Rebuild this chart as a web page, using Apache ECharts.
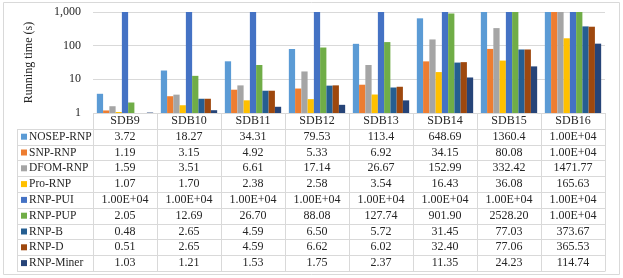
<!DOCTYPE html>
<html><head><meta charset="utf-8">
<script src="https://cdn.jsdelivr.net/npm/echarts@6/dist/echarts.min.js"></script>
<style>html,body{margin:0;padding:0;background:#fff}#c{width:623px;height:278px}</style>
</head><body><div id="c"></div>
<script>
var categories = ['SDB9','SDB10','SDB11','SDB12','SDB13','SDB14','SDB15','SDB16'];
var seriesNames = ['NOSEP-RNP','SNP-RNP','DFOM-RNP','Pro-RNP','RNP-PUI','RNP-PUP','RNP-B','RNP-D','RNP-Miner'];
var colors = ['#5B9BD5','#ED7D31','#A5A5A5','#FFC000','#4472C4','#70AD47','#255E91','#9E480E','#264478'];
var nosepRnp = ['3.72','18.27','34.31','79.53','113.4','648.69','1360.4','1.00E+04'];
var snpRnp   = ['1.19','3.15','4.92','5.33','6.92','34.15','80.08','1.00E+04'];
var dfomRnp  = ['1.59','3.51','6.61','17.14','26.67','152.99','332.42','1471.77'];
var proRnp   = ['1.07','1.70','2.38','2.58','3.54','16.43','36.08','165.63'];
var rnpPui   = ['1.00E+04','1.00E+04','1.00E+04','1.00E+04','1.00E+04','1.00E+04','1.00E+04','1.00E+04'];
var rnpPup   = ['2.05','12.69','26.70','88.08','127.74','901.90','2528.20','1.00E+04'];
var rnpB     = ['0.48','2.65','4.59','6.50','5.72','31.45','77.03','373.67'];
var rnpD     = ['0.51','2.65','4.59','6.62','6.02','32.40','77.06','365.53'];
var rnpMiner = ['1.03','1.21','1.53','1.75','2.37','11.35','24.23','114.74'];
var yTicks = [1, 10, 100, 1000];
var allSeries = [nosepRnp, snpRnp, dfomRnp, proRnp, rnpPui, rnpPup, rnpB, rnpD, rnpMiner];

var GL = 93, GR = 605, GT = 12, GB = 113, TL = 17, ROW = 15.8;
var FONT = '"Liberation Serif", "Times New Roman", serif';
var TXT = '#262626';
var LINE = '#D9D9D9';
var nRows = seriesNames.length;
var tableBottom = GB + ROW * (nRows + 1);
var colW = (GR - GL) / categories.length;

var graphics = [];
graphics.push({type:'rect', shape:{x:3.5,y:2.5,width:616,height:272}, style:{fill:'none', stroke:LINE, lineWidth:1}, silent:true});
graphics.push({type:'line', shape:{x1:GL,y1:GB+0.5,x2:GR,y2:GB+0.5}, style:{stroke:LINE,lineWidth:1}, silent:true});
for (var r = 1; r <= nRows + 1; r++) {
  var y = Math.round(GB + ROW * r) + 0.5;
  graphics.push({type:'line', shape:{x1:TL,y1:y,x2:GR,y2:y}, style:{stroke:LINE,lineWidth:1}, silent:true});
}
graphics.push({type:'line', shape:{x1:TL+0.5,y1:Math.round(GB+ROW),x2:TL+0.5,y2:Math.round(tableBottom)+0.5}, style:{stroke:LINE,lineWidth:1}, silent:true});
for (var c = 0; c <= categories.length; c++) {
  var x = Math.round(GL + colW * c) + 0.5;
  graphics.push({type:'line', shape:{x1:x,y1:GB,x2:x,y2:Math.round(tableBottom)+0.5}, style:{stroke:LINE,lineWidth:1}, silent:true});
}

var series = seriesNames.map(function(n, i){
  return {name:n, type:'bar', data: allSeries[i].map(Number), itemStyle:{color:colors[i]},
    barGap:'0%', barCategoryGap:'12%', animation:false};
});

var chart = echarts.init(document.getElementById('c'));
chart.setOption({
  animation:false,
  grid:{left:GL, right:623-GR, top:GT, height:GB-GT, containLabel:false},
  legend:{orient:'vertical', left:TL+4, top:GB+ROW, itemWidth:6, itemHeight:6, itemGap:0, padding:0,
    icon:'rect', data:seriesNames,
    textStyle:{fontFamily:FONT, fontSize:11.5, color:TXT, lineHeight:ROW, padding:[0,0,0,-3]}},
  xAxis:{type:'category', data:categories,
    axisLine:{show:false}, axisTick:{show:false}, splitLine:{show:false},
    axisLabel:{interval:0, margin:0, fontFamily:FONT, fontSize:12, color:TXT, lineHeight:ROW, verticalAlign:'top',
      formatter:function(v, idx){ return [v].concat(allSeries.map(function(s){return s[idx];})).join('\n'); }}},
  yAxis:{type:'log', logBase:10, min:yTicks[0], max:yTicks[yTicks.length-1],
    name:'Running time (s)', nameLocation:'middle', nameGap:58,
    nameTextStyle:{fontFamily:FONT, fontSize:12, color:TXT},
    axisLine:{show:false}, axisTick:{show:false},
    splitLine:{lineStyle:{color:LINE}},
    axisLabel:{margin:12, fontFamily:FONT, fontSize:12, color:TXT,
      formatter:function(v){ return Number(v).toLocaleString('en-US'); }}},
  series: series,
  graphic: graphics
});
</script></body></html>
